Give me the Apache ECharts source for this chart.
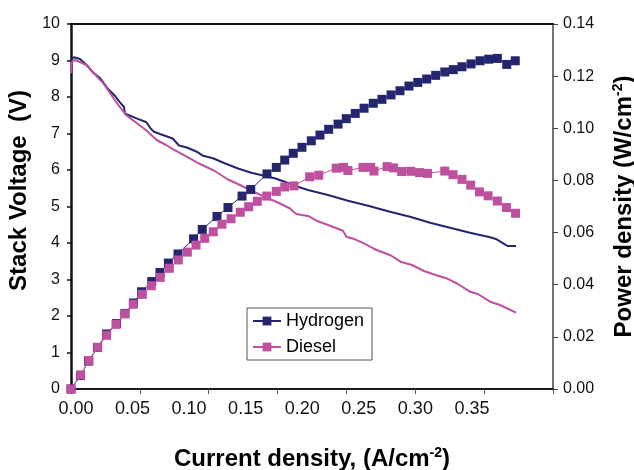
<!DOCTYPE html>
<html>
<head>
<meta charset="utf-8">
<script src="https://cdn.jsdelivr.net/npm/echarts@6/dist/echarts.min.js"></script>
<style>
html,body{margin:0;padding:0;background:#fff;}
#chart{width:634px;height:470px;}
</style>
</head>
<body>
<div id="chart"></div>
<script>
// Current density (A/cm2) vs power density (W/cm2)
const hydrogenPower = [
[0,0],[0.0069,0.0052],[0.0127,0.0107],[0.0192,0.0159],[0.0258,0.0211],[0.0330,0.0251],
[0.0392,0.0290],[0.0454,0.0330],[0.0513,0.0373],[0.0586,0.0412],[0.0646,0.0447],[0.0707,0.0483],
[0.0777,0.0518],[0.0890,0.0576],[0.0953,0.0612],[0.1060,0.0662],[0.1140,0.0696],[0.1242,0.0740],
[0.1305,0.0765],[0.1423,0.0825],[0.1491,0.0850],[0.1552,0.0878],[0.1614,0.0904],[0.1677,0.0927],
[0.1745,0.0952],[0.1808,0.0974],[0.1871,0.0996],[0.1939,0.1016],[0.1999,0.1037],[0.2064,0.1057],
[0.2128,0.1077],[0.2195,0.1096],[0.2258,0.1111],[0.2324,0.1128],[0.2389,0.1144],[0.2454,0.1162],
[0.2518,0.1176],[0.2583,0.1189],[0.2648,0.1203],[0.2714,0.1216],[0.2776,0.1225],[0.2839,0.1236],
[0.2905,0.1247],[0.2970,0.1259],[0.3033,0.1265],[0.3096,0.1268],[0.3164,0.1245],[0.3226,0.1259]
];
const dieselPower = [
[0,0],[0.0070,0.0054],[0.0131,0.0109],[0.0194,0.0160],[0.0259,0.0206],[0.0327,0.0248],
[0.0390,0.0288],[0.0452,0.0325],[0.0518,0.0363],[0.0583,0.0396],[0.0648,0.0428],[0.0714,0.0463],
[0.0779,0.0495],[0.0845,0.0525],[0.0908,0.0552],[0.0971,0.0578],[0.1033,0.0603],[0.1096,0.0632],
[0.1162,0.0653],[0.1229,0.0678],[0.1290,0.0699],[0.1353,0.0720],[0.1421,0.0740],[0.1491,0.0758],
[0.1552,0.0775],[0.1619,0.0779],[0.1733,0.0814],[0.1799,0.0820],[0.1926,0.0847],[0.1979,0.0850],
[0.2011,0.0838],[0.2120,0.0850],[0.2176,0.0850],[0.2200,0.0836],[0.2295,0.0853],[0.2342,0.0848],
[0.2401,0.0834],[0.2467,0.0835],[0.2531,0.0830],[0.2589,0.0827],[0.2714,0.0836],[0.2774,0.0822],
[0.2839,0.0804],[0.2902,0.0782],[0.2966,0.0756],[0.3029,0.0741],[0.3096,0.0721],[0.3162,0.0696],
[0.3228,0.0674]
];
// Current density vs stack voltage (V)
const hydrogenVoltage = [
[0,9.014],[0.0022,9.088],[0.0065,9.041],[0.0114,8.877],[0.0160,8.671],[0.0211,8.521],
[0.0269,8.219],[0.0320,8.027],[0.0351,7.871],[0.0385,7.726],[0.0391,7.548],[0.0407,7.521],
[0.0476,7.416],[0.0548,7.307],[0.0581,7.123],[0.0603,7.049],[0.0646,6.986],[0.0738,6.863],
[0.0784,6.671],[0.0842,6.616],[0.0913,6.501],[0.0959,6.389],[0.1031,6.321],[0.1111,6.192],
[0.1213,6.041],[0.1309,5.926],[0.1387,5.858],[0.1479,5.773],[0.1552,5.679],[0.1648,5.542],
[0.1721,5.452],[0.1866,5.315],[0.2011,5.159],[0.2157,5.022],[0.2316,4.858],[0.2462,4.721],
[0.2607,4.556],[0.2752,4.419],[0.2897,4.282],[0.3043,4.156],[0.3091,4.101],[0.3139,3.992],
[0.3170,3.918],[0.3231,3.918]
];
const dieselVoltage = [
[0,8.649],[0.0004,8.959],[0.0029,9.014],[0.0073,8.945],[0.0116,8.863],[0.0185,8.575],
[0.0235,8.375],[0.0283,8.110],[0.0341,7.795],[0.0399,7.507],[0.0457,7.342],[0.0550,7.077],
[0.0622,6.822],[0.0690,6.685],[0.0743,6.567],[0.0840,6.364],[0.0937,6.164],[0.1038,5.986],
[0.1140,5.740],[0.1227,5.589],[0.1322,5.411],[0.1409,5.260],[0.1510,5.096],[0.1590,4.945],
[0.1616,4.858],[0.1636,4.795],[0.1728,4.732],[0.1783,4.611],[0.1866,4.493],[0.1975,4.337],
[0.1999,4.173],[0.2062,4.101],[0.2128,3.992],[0.2189,3.863],[0.2218,3.808],[0.2324,3.658],
[0.2393,3.488],[0.2476,3.397],[0.2563,3.233],[0.2658,3.110],[0.2728,3.033],[0.2803,2.890],
[0.2897,2.666],[0.2955,2.603],[0.3043,2.392],[0.3115,2.301],[0.3231,2.090]
];
const xTickLabels = [0, 0.05, 0.10, 0.15, 0.20, 0.25, 0.30, 0.35];
const seriesNames = ['Hydrogen', 'Diesel'];

const NAVY = '#25256F';
const MAGENTA = '#BF4F9F';
const FONT = '"Liberation Sans", Arial, Helvetica, sans-serif';

const chart = echarts.init(document.getElementById('chart'), null, {renderer: 'canvas'});
const supStyle = {fontSize: 14, fontWeight: 'bold', color: '#000', fontFamily: FONT, verticalAlign: 'top', lineHeight: 26};
chart.setOption({
  animation: false,
  backgroundColor: '#fff',
  textStyle: {fontFamily: FONT},
  grid: {left: 71, top: 24, width: 482, height: 365, containLabel: false, outerBoundsMode: 'none'},
  legend: {
    data: seriesNames,
    orient: 'vertical',
    left: 247, top: 308,
    itemWidth: 28, itemHeight: 11, itemGap: 8,
    padding: [4, 8, 4, 5],
    borderColor: '#555', borderWidth: 1, backgroundColor: '#fff',
    textStyle: {fontSize: 18, color: '#000', fontFamily: FONT},
    selectedMode: false
  },
  xAxis: [
    {
      type: 'value', min: 0, max: 0.35, interval: 0.05, position: 'bottom',
      axisLine: {show: true, onZero: false, lineStyle: {color: '#1a1a1a', width: 2}},
      axisTick: {show: true, length: 5, lineStyle: {color: '#555', width: 1}},
      axisLabel: {show: false},
      splitLine: {show: false}
    },
    {
      type: 'value', min: -0.00433, max: 0.42162, position: 'bottom',
      axisLine: {show: false, onZero: false}, axisTick: {show: false}, splitLine: {show: false},
      axisLabel: {
        customValues: xTickLabels,
        formatter: v => v.toFixed(2),
        fontSize: 18, color: '#111', margin: 11, fontFamily: FONT
      },
      name: 'Current density, (A/cm{sup|-2})',
      nameLocation: 'middle', nameGap: 57,
      nameTextStyle: {fontSize: 24, fontWeight: 'bold', color: '#000', fontFamily: FONT, lineHeight: 26, rich: {sup: supStyle}}
    },
    {
      type: 'value', min: 0, max: 0.35, position: 'top',
      axisLine: {show: true, onZero: false, lineStyle: {color: '#111', width: 2}},
      axisTick: {show: false}, axisLabel: {show: false}, splitLine: {show: false}
    }
  ],
  yAxis: [
    {
      type: 'value', min: 0, max: 10, interval: 1, position: 'left',
      axisLine: {show: true, onZero: false, lineStyle: {color: '#111', width: 2.5}},
      axisTick: {show: true, length: 4, lineStyle: {color: '#111', width: 1.5}},
      axisLabel: {fontSize: 16, color: '#111', margin: 11, fontFamily: FONT},
      splitLine: {show: false},
      name: 'Stack Voltage  (V)', nameLocation: 'middle', nameRotate: 90, nameGap: 31,
      nameTextStyle: {fontSize: 24, fontWeight: 'bold', color: '#000', fontFamily: FONT, padding: [0, 0, 0, 32]}
    },
    {
      type: 'value', min: 0, max: 0.14, interval: 0.02, position: 'right',
      axisLine: {show: true, onZero: false, lineStyle: {color: '#444', width: 1.5}},
      axisTick: {show: true, length: 5, lineStyle: {color: '#444', width: 1}},
      axisLabel: {fontSize: 16, color: '#111', margin: 10, formatter: v => v.toFixed(2), fontFamily: FONT},
      splitLine: {show: false},
      name: 'Power density (W/cm{sup|-2})', nameLocation: 'middle', nameRotate: 90, nameGap: 58,
      nameTextStyle: {fontSize: 24, fontWeight: 'bold', color: '#000', fontFamily: FONT, lineHeight: 26, rich: {sup: supStyle}}
    }
  ],
  series: [
    {
      name: 'Hydrogen voltage', type: 'line', xAxisIndex: 0, yAxisIndex: 0,
      data: hydrogenVoltage, symbol: 'none', z: 2,
      lineStyle: {color: NAVY, width: 2}, itemStyle: {color: NAVY}, emphasis: {disabled: true}
    },
    {
      name: 'Diesel voltage', type: 'line', xAxisIndex: 0, yAxisIndex: 0,
      data: dieselVoltage, symbol: 'none', z: 2,
      lineStyle: {color: MAGENTA, width: 2}, itemStyle: {color: MAGENTA}, emphasis: {disabled: true}
    },
    {
      name: seriesNames[0], type: 'line', xAxisIndex: 0, yAxisIndex: 1,
      data: hydrogenPower, symbol: 'rect', symbolSize: 9, z: 3,
      lineStyle: {color: NAVY, width: 1}, itemStyle: {color: NAVY}, emphasis: {disabled: true}
    },
    {
      name: seriesNames[1], type: 'line', xAxisIndex: 0, yAxisIndex: 1,
      data: dieselPower, symbol: 'rect', symbolSize: 9, z: 4,
      lineStyle: {color: MAGENTA, width: 1}, itemStyle: {color: MAGENTA}, emphasis: {disabled: true}
    }
  ]
});
</script>
</body>
</html>
